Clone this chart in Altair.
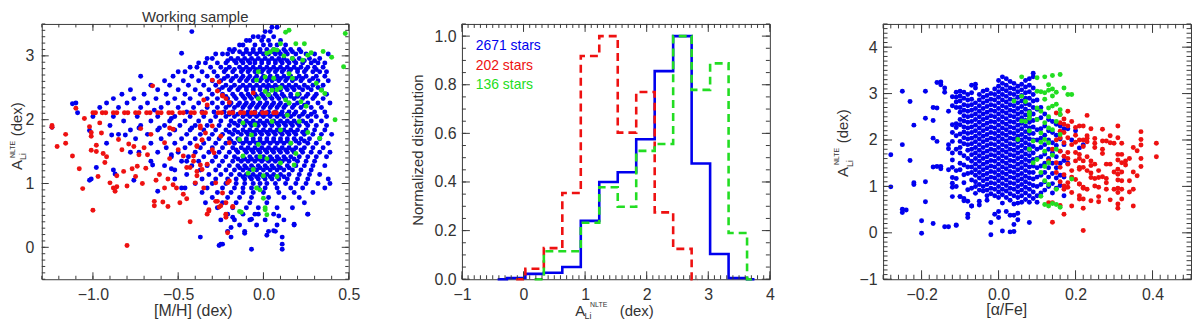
import altair as alt
import pandas as pd

FONT = "Liberation Sans"
FRAME = "#3a3a3a"
TXT = "#333333"
BLUE = "#0000ee"
RED = "#ee1111"
GREEN = "#22dd22"
DOT = 25

# ---------------- left panel : [M/H] vs A(Li) ----------------
blue_mh_rows = [
    (3.45, [0.05, 0.08]),
    (3.38, [0.01, 0.04]),
    (3.30, [-0.06, -0.03, 0.0, 0.06]),
    (3.24, [-0.10, -0.08, -0.01, 0.03, 0.10]),
    (3.17, [-0.14, -0.12, -0.05, 0.0, 0.04, 0.08, 0.13]),
    (3.10, [-0.20, -0.17, -0.10, -0.06, -0.02, 0.02, 0.06, 0.12, 0.16, 0.21]),
    (3.03, [-0.28, -0.24, -0.21, -0.12, -0.08, -0.04, 0.0, 0.03, 0.07, 0.10, 0.14, 0.19, 0.25, 0.30, 0.38]),
    (2.96, [-0.33, -0.30, -0.19, -0.15, -0.11, -0.07, -0.03, 0.01, 0.05, 0.09, 0.12, 0.17, 0.21, 0.27, 0.33]),
    (2.89, [-0.38, -0.34, -0.27, -0.22, -0.16, -0.12, -0.08, -0.05, -0.01, 0.03, 0.07, 0.11, 0.15, 0.19, 0.23, 0.28, 0.32, 0.36]),
    (2.82, [-0.43, -0.39, -0.31, -0.25, -0.20, -0.14, -0.10, -0.06, -0.02, 0.02, 0.06, 0.10, 0.14, 0.18, 0.22, 0.26, 0.30, 0.35]),
    (2.75, [-0.50, -0.46, -0.36, -0.29, -0.23, -0.18, -0.13, -0.09, -0.05, -0.01, 0.03, 0.07, 0.11, 0.15, 0.20, 0.24, 0.29, 0.33, 0.37]),
    (2.68, [-0.72, -0.53, -0.42, -0.33, -0.27, -0.21, -0.16, -0.12, -0.08, -0.04, 0.0, 0.04, 0.08, 0.12, 0.16, 0.21, 0.25, 0.31, 0.36]),
    (2.61, [-0.58, -0.47, -0.38, -0.30, -0.25, -0.19, -0.14, -0.10, -0.06, -0.02, 0.02, 0.05, 0.09, 0.13, 0.17, 0.22, 0.27, 0.32, 0.38]),
    (2.54, [-0.66, -0.55, -0.44, -0.35, -0.28, -0.22, -0.17, -0.12, -0.08, -0.04, 0.0, 0.03, 0.07, 0.11, 0.15, 0.19, 0.24, 0.29, 0.35]),
    (2.47, [-0.78, -0.62, -0.50, -0.40, -0.32, -0.26, -0.20, -0.15, -0.10, -0.06, -0.02, 0.02, 0.06, 0.10, 0.14, 0.18, 0.23, 0.28, 0.34]),
    (2.40, [-0.83, -0.70, -0.57, -0.46, -0.37, -0.30, -0.24, -0.18, -0.13, -0.09, -0.05, -0.01, 0.03, 0.07, 0.11, 0.16, 0.21, 0.26, 0.31, 0.37]),
    (2.33, [-0.88, -0.76, -0.63, -0.52, -0.43, -0.33, -0.27, -0.21, -0.16, -0.11, -0.07, -0.03, 0.01, 0.05, 0.09, 0.13, 0.18, 0.23, 0.29, 0.35]),
    (2.26, [-1.10, -0.92, -0.80, -0.68, -0.56, -0.47, -0.38, -0.30, -0.24, -0.19, -0.14, -0.10, -0.06, -0.02, 0.02, 0.06, 0.10, 0.15, 0.20, 0.26, 0.32, 0.39]),
    (2.19, [-0.96, -0.85, -0.72, -0.60, -0.50, -0.41, -0.33, -0.27, -0.22, -0.17, -0.12, -0.08, -0.04, 0.0, 0.04, 0.08, 0.12, 0.17, 0.22, 0.28, 0.34]),
    (2.12, [-0.45, -0.36, -0.29, -0.23, -0.18, -0.13, -0.09, -0.05, -0.01, 0.03, 0.07, 0.11, 0.15, 0.19, 0.24, 0.30, 0.36]),
    (2.05, [-1.00, -0.88, -0.74, -0.62, -0.52, -0.43, -0.35, -0.28, -0.22, -0.17, -0.12, -0.08, -0.04, 0.0, 0.04, 0.08, 0.12, 0.16, 0.21, 0.26, 0.31, 0.37]),
    (1.98, [-0.82, -0.66, -0.55, -0.46, -0.38, -0.31, -0.25, -0.19, -0.14, -0.10, -0.06, -0.02, 0.02, 0.06, 0.10, 0.14, 0.18, 0.23, 0.28, 0.34]),
    (1.91, [-0.90, -0.72, -0.58, -0.49, -0.40, -0.33, -0.26, -0.20, -0.15, -0.11, -0.07, -0.03, 0.01, 0.05, 0.09, 0.13, 0.17, 0.21, 0.26, 0.31, 0.37]),
    (1.84, [-0.78, -0.62, -0.52, -0.43, -0.35, -0.28, -0.22, -0.17, -0.12, -0.08, -0.04, 0.0, 0.04, 0.08, 0.12, 0.16, 0.20, 0.25, 0.30, 0.36]),
    (1.77, [-0.85, -0.68, -0.55, -0.45, -0.37, -0.30, -0.24, -0.18, -0.13, -0.09, -0.05, -0.01, 0.03, 0.07, 0.11, 0.15, 0.19, 0.24, 0.29, 0.34, 0.40]),
    (1.70, [-0.75, -0.60, -0.48, -0.40, -0.32, -0.26, -0.20, -0.15, -0.10, -0.06, -0.02, 0.02, 0.06, 0.10, 0.14, 0.18, 0.22, 0.27, 0.33]),
    (1.63, [-0.92, -0.66, -0.52, -0.43, -0.35, -0.28, -0.22, -0.17, -0.12, -0.08, -0.04, 0.0, 0.04, 0.08, 0.12, 0.16, 0.21, 0.26, 0.31, 0.38]),
    (1.56, [-0.57, -0.46, -0.37, -0.30, -0.24, -0.18, -0.13, -0.09, -0.05, -0.01, 0.03, 0.07, 0.11, 0.15, 0.19, 0.24, 0.29, 0.35]),
    (1.49, [-0.78, -0.62, -0.50, -0.40, -0.32, -0.26, -0.20, -0.15, -0.10, -0.06, -0.02, 0.02, 0.06, 0.10, 0.14, 0.18, 0.23, 0.28, 0.33, 0.39]),
    (1.42, [-0.54, -0.44, -0.35, -0.28, -0.22, -0.17, -0.12, -0.08, -0.04, 0.0, 0.04, 0.08, 0.12, 0.16, 0.21, 0.26, 0.31, 0.37]),
    (1.35, [-0.66, -0.48, -0.38, -0.30, -0.24, -0.18, -0.13, -0.09, -0.05, -0.01, 0.03, 0.07, 0.11, 0.15, 0.20, 0.25, 0.30]),
    (1.28, [-0.58, -0.42, -0.33, -0.26, -0.20, -0.15, -0.11, -0.07, -0.03, 0.01, 0.05, 0.09, 0.14, 0.19, 0.24, 0.29, 0.36]),
    (1.21, [-0.88, -0.52, -0.37, -0.28, -0.22, -0.17, -0.12, -0.08, -0.04, 0.0, 0.04, 0.08, 0.12, 0.17, 0.22, 0.28]),
    (1.14, [-0.45, -0.32, -0.25, -0.19, -0.14, -0.10, -0.06, -0.02, 0.02, 0.06, 0.10, 0.15, 0.21, 0.27, 0.33]),
    (1.07, [-1.01, -0.52, -0.36, -0.28, -0.21, -0.16, -0.11, -0.07, -0.03, 0.01, 0.05, 0.09, 0.14, 0.20, 0.26, 0.38]),
    (1.00, [-0.40, -0.30, -0.22, -0.16, -0.11, -0.06, -0.02, 0.02, 0.07, 0.13, 0.19, 0.25, 0.32, 0.39]),
    (0.93, [-0.46, -0.33, -0.24, -0.17, -0.12, -0.07, -0.03, 0.01, 0.08, 0.16, 0.23, 0.36]),
    (0.86, [-0.36, -0.27, -0.19, -0.12, -0.06, 0.0, 0.09, 0.18, 0.29]),
    (0.78, [-0.30, -0.21, -0.14, -0.07, 0.03, 0.12, 0.21]),
    (0.70, [-0.34, -0.24, -0.16, -0.08, 0.02, 0.24]),
    (0.62, [-0.27, -0.18, -0.10, -0.03, 0.08, 0.17]),
    (0.52, [-0.21, -0.12, -0.05, 0.06, 0.26]),
    (0.43, [-0.25, -0.17, -0.08, 0.01, 0.12]),
    (0.35, [-0.14, -0.04, 0.08, 0.18]),
    (0.25, [-0.21, -0.11, 0.03, 0.07]),
    (0.16, [-0.37, -0.19, 0.11]),
    (0.05, [-0.25, -0.24, 0.11]),
    (-0.03, [-0.07, 0.11]),
]
blue_mh_core_rows = [
    (3.065, [-0.18, -0.14, -0.10, -0.06, -0.02, 0.02, 0.05, 0.09, 0.13, 0.17, 0.22]),
    (2.925, [-0.21, -0.17, -0.13, -0.09, -0.05, -0.01, 0.03, 0.07, 0.10, 0.14, 0.18, 0.24, 0.30]),
    (2.785, [-0.22, -0.17, -0.12, -0.08, -0.04, 0.0, 0.04, 0.08, 0.12, 0.16, 0.20, 0.25, 0.31]),
    (2.645, [-0.23, -0.18, -0.13, -0.09, -0.05, -0.01, 0.03, 0.07, 0.10, 0.14, 0.19, 0.23, 0.29]),
    (2.505, [-0.24, -0.19, -0.14, -0.10, -0.06, -0.02, 0.02, 0.05, 0.09, 0.13, 0.17, 0.21, 0.26, 0.32]),
    (2.365, [-0.22, -0.17, -0.12, -0.08, -0.04, 0.0, 0.04, 0.08, 0.12, 0.16, 0.20, 0.25, 0.30]),
    (2.225, [-0.20, -0.15, -0.11, -0.07, -0.03, 0.01, 0.05, 0.09, 0.13, 0.18, 0.24]),
    (2.085, [-0.20, -0.15, -0.10, -0.06, -0.02, 0.02, 0.06, 0.10, 0.14, 0.18, 0.23, 0.28]),
    (1.945, [-0.17, -0.12, -0.08, -0.04, 0.0, 0.04, 0.08, 0.12, 0.16, 0.20, 0.25]),
    (1.805, [-0.20, -0.15, -0.10, -0.06, -0.02, 0.02, 0.06, 0.10, 0.14, 0.18, 0.23]),
    (1.665, [-0.19, -0.14, -0.10, -0.06, -0.02, 0.02, 0.06, 0.10, 0.14, 0.19, 0.24]),
    (1.525, [-0.16, -0.11, -0.07, -0.03, 0.01, 0.05, 0.09, 0.13, 0.17, 0.22]),
    (1.385, [-0.15, -0.11, -0.07, -0.03, 0.01, 0.05, 0.09, 0.13, 0.18]),
    (1.245, [-0.14, -0.10, -0.06, -0.02, 0.02, 0.06, 0.10, 0.15]),
    (1.105, [-0.12, -0.08, -0.04, 0.0, 0.04, 0.08, 0.12]),
]
blue_mh_extra = [
    (-0.42, 3.38), (-0.48, 3.04), (-1.24, 1.88), (-1.12, 2.25), (-1.09, 2.11), (-1.02, 1.83),
    (-0.89, 1.76), (-0.81, 1.76), (-0.73, 1.87), (-0.64, 2.15), (-0.61, 1.87), (-0.54, 2.02),
    (-0.42, 1.87), (-1.02, 1.05), (-0.98, 1.25), (-0.87, 1.15), (-0.76, 1.05), (-0.73, 1.49),
    (-0.65, 1.29), (-0.62, 0.88), (-0.54, 1.45), (-0.54, 1.23), (-0.48, 0.93), (-0.45, 1.35),
    (0.06, 0.26), (0.18, 0.36), (0.26, 0.52), (0.02, 0.19), (-0.07, 0.44), (-0.11, 0.22),
    (-0.19, 0.31), (0.09, 0.49), (-0.18, 0.47), (-0.03, 0.52), (-0.26, 0.03),
]
red_mh = [
    (-1.24, 1.91), (-1.24, 1.88), (-1.21, 1.58), (-1.16, 1.77), (-1.16, 1.63), (-1.12, 1.43),
    (-1.10, 2.18), (-1.08, 1.23), (-1.06, 0.92), (-1.05, 2.02), (-1.02, 1.89), (-1.01, 1.80),
    (-1.01, 1.74), (-1.01, 1.52), (-1.00, 0.58), (-0.98, 1.60), (-0.98, 1.50), (-0.97, 1.11),
    (-0.96, 1.95), (-0.95, 1.79), (-0.94, 1.47), (-0.93, 1.33), (-0.92, 1.42), (-0.90, 1.01),
    (-0.88, 0.93), (-0.87, 0.88), (-0.86, 1.12), (-0.86, 0.95), (-0.85, 1.69), (-0.83, 1.53),
    (-0.82, 1.19), (-0.80, 0.03), (-0.80, 0.96), (-0.79, 1.62), (-0.77, 1.23), (-0.76, 1.58),
    (-0.75, 1.11), (-0.73, 1.45), (-0.74, 1.27), (-0.72, 1.86), (-0.71, 1.00), (-0.70, 1.56),
    (-0.68, 1.45), (-0.69, 1.24), (-0.66, 1.77), (-0.65, 2.53), (-0.64, 0.65), (-0.64, 0.72),
    (-0.63, 1.05), (-0.61, 1.14), (-0.59, 0.71), (-0.58, 1.64), (-0.58, 0.93), (-0.56, 1.07),
    (-0.56, 0.64), (-0.55, 1.39), (-0.55, 1.87), (-0.53, 1.85), (-0.53, 0.98), (-0.51, 0.93),
    (-0.50, 1.53), (-0.49, 0.70), (-0.47, 0.83), (-0.47, 1.43), (-0.45, 1.25), (-0.45, 0.76),
    (-0.43, 0.40), (-0.43, 1.25), (-0.41, 1.35), (-0.40, 1.01), (-0.39, 1.59), (-0.39, 1.12),
    (-0.37, 1.90), (-0.36, 1.22), (-0.36, 1.68), (-0.35, 0.93), (-0.33, 1.30), (-0.32, 0.57),
    (-0.30, 1.53), (-0.30, 1.90), (-0.28, 0.72), (-0.27, 2.45), (-0.26, 0.63), (-0.25, 1.74),
    (-0.24, 2.37), (-0.22, 0.51), (-0.21, 0.23), (-0.21, 1.01), (-0.20, 1.64), (-0.18, 0.64),
    (-0.20, 2.27), (-0.06, 2.42), (-0.30, 2.62), (-0.26, 2.59), (-0.24, 2.38), (-0.22, 2.33),
    (-0.35, 2.31), (-0.33, 2.23), (-0.37, 1.87), (-0.34, 1.79), (-0.36, 1.68), (-0.39, 1.58),
    (-0.41, 1.43), (-0.37, 1.29), (-0.39, 1.19), (-0.28, 1.01), (-0.24, 0.85), (-0.27, 0.72),
    (-0.22, 0.70), (-0.25, 0.65), (-0.32, 0.59), (-0.33, 0.52), (-0.22, 0.52), (-0.22, 0.47),
    (-0.18, 0.63), (-0.20, 1.04), (-0.29, 1.48),
]
red_mh_band_y = 2.11
red_mh_band_x = [
    -1.00, -0.985, -0.945, -0.925, -0.88, -0.86, -0.815, -0.795, -0.75, -0.73, -0.685, -0.665,
    -0.62, -0.60, -0.555, -0.535, -0.49, -0.47, -0.425, -0.405, -0.36, -0.34, -0.265, -0.245,
    -0.20, -0.18, -0.135, -0.115, -0.07, -0.05, -0.005, 0.015, 0.06, 0.075,
]
green_mh = [
    (0.13, 3.37), (0.15, 3.40), (0.10, 3.19), (0.08, 3.09), (0.04, 3.06), (0.02, 3.04),
    (0.06, 3.10), (0.19, 3.19), (0.24, 3.19), (0.26, 3.01), (0.23, 2.93), (0.17, 2.96),
    (0.35, 3.07), (0.40, 2.98), (0.47, 2.83), (0.48, 3.35), (0.28, 3.05), (0.12, 3.00),
    (-0.03, 2.75), (-0.04, 2.62), (0.01, 2.67), (0.06, 2.65), (0.15, 2.72), (0.17, 2.65),
    (0.01, 2.44), (0.05, 2.46), (0.08, 2.47), (0.03, 2.39), (-0.03, 2.33), (0.13, 2.31),
    (0.15, 2.26), (0.22, 2.28), (0.25, 2.21), (0.34, 2.46), (0.36, 2.41), (0.31, 2.57),
    (0.10, 2.50), (0.20, 2.40), (-0.12, 1.95), (-0.05, 1.92), (0.05, 1.97), (0.10, 1.84),
    (0.21, 1.97), (0.14, 2.07), (0.42, 2.00), (-0.14, 1.69), (-0.07, 1.76), (-0.03, 1.61),
    (0.16, 1.63), (0.33, 1.71), (0.26, 1.80), (-0.02, 1.42), (0.02, 1.39), (-0.09, 1.16),
    (-0.04, 0.93), (-0.02, 0.90), (0.0, 0.77), (0.01, 0.59), (0.02, 0.51), (-0.14, 0.56),
    (0.08, 1.11), (0.18, 1.29), (0.19, 1.47), (0.10, 1.32), (-0.12, 1.43), (-0.06, 1.22),
    (0.0, 1.12), (-0.13, 0.55), (0.01, 0.62),
]

# ---------------- middle panel : normalized histograms ----------------
hist_blue_edges = [-0.42, -0.27, 0.03, 0.33, 0.63, 0.93, 1.23, 1.53, 1.83, 2.13, 2.43, 2.73, 3.03, 3.33, 3.63, 3.75]
hist_blue_vals = [0.0, 0.005, 0.022, 0.027, 0.05, 0.24, 0.40, 0.44, 0.576, 0.856, 1.0, 0.476, 0.104, 0.005, 0.0]
hist_red_edges = [-0.12, 0.03, 0.33, 0.63, 0.93, 1.23, 1.53, 1.83, 2.13, 2.43, 2.73, 2.83]
hist_red_vals = [0.0, 0.043, 0.128, 0.355, 0.918, 1.0, 0.603, 0.77, 0.275, 0.125, 0.0]
hist_green_edges = [0.18, 0.33, 0.63, 0.93, 1.23, 1.53, 1.83, 2.13, 2.43, 2.73, 3.03, 3.33, 3.63, 3.76]
hist_green_vals = [0.0, 0.115, 0.115, 0.232, 0.378, 0.298, 0.528, 0.556, 1.0, 0.779, 0.888, 0.19, 0.0]
legend_texts = ["2671 stars", "202 stars", "136 stars"]

# ---------------- right panel : [alpha/Fe] vs A(Li) ----------------
blue_af_col_x = [-0.12, -0.11, -0.10, -0.09, -0.08, -0.07, -0.06, -0.05, -0.04, -0.03, -0.02, -0.01,
                 0.00, 0.01, 0.02, 0.03, 0.04, 0.05, 0.06, 0.07, 0.08, 0.09, 0.10, 0.11, 0.12, 0.13,
                 0.14, 0.15, 0.16, 0.17]
blue_af_col_y = [
    [2.93, 2.74, 2.33, 2.16, 1.97, 1.72, 1.57, 1.41, 1.19, 0.78],
    [3.03, 2.92, 2.82, 2.70, 2.35, 2.27, 2.09, 1.80, 1.34, 1.17, 1.00, 0.16],
    [3.05, 2.95, 2.84, 2.70, 2.60, 2.44, 2.33, 2.13, 1.97, 1.84, 1.72, 1.50, 1.36, 0.78],
    [3.03, 2.90, 2.76, 2.64, 2.52, 2.41, 2.28, 2.17, 2.05, 1.92, 1.66, 1.46, 1.25, 1.08, 0.74],
    [2.98, 2.86, 2.74, 2.62, 2.50, 2.38, 2.26, 2.14, 2.02, 1.90, 1.78, 1.60, 1.42, 1.28, 0.93, 0.68],
    [3.18, 3.02, 2.88, 2.76, 2.64, 2.52, 2.40, 2.28, 2.16, 2.04, 1.92, 1.80, 1.68, 1.54, 1.42, 1.30, 1.14, 0.96, 0.58],
    [3.20, 3.12, 2.80, 2.68, 2.56, 2.44, 2.32, 2.20, 2.08, 1.96, 1.84, 1.72, 1.60, 1.48, 1.36, 1.24, 1.10, 1.00, 0.85],
    [2.98, 2.86, 2.74, 2.62, 2.50, 2.38, 2.26, 2.14, 2.02, 1.90, 1.78, 1.66, 1.54, 1.42, 1.30, 1.18, 1.04, 0.92, 0.68, 0.60],
    [3.05, 2.92, 2.80, 2.68, 2.56, 2.44, 2.32, 2.20, 2.08, 1.96, 1.84, 1.72, 1.60, 1.48, 1.36, 1.24, 1.12, 1.00, 0.90],
    [3.08, 2.96, 2.84, 2.72, 2.60, 2.48, 2.36, 2.24, 2.12, 2.00, 1.88, 1.76, 1.64, 1.52, 1.40, 1.28, 1.16, 1.04, 0.92, 0.80, 0.70],
    [3.00, 2.88, 2.76, 2.64, 2.52, 2.40, 2.28, 2.16, 2.04, 1.92, 1.80, 1.68, 1.56, 1.44, 1.32, 1.20, 1.08, 0.96, 0.84, 0.22, -0.04],
    [3.10, 2.98, 2.86, 2.74, 2.62, 2.50, 2.38, 2.26, 2.14, 2.02, 1.90, 1.78, 1.66, 1.54, 1.42, 1.30, 1.18, 1.06, 0.94, 0.80, 0.40],
    [3.28, 3.16, 3.04, 2.92, 2.80, 2.68, 2.56, 2.44, 2.32, 2.20, 2.08, 1.96, 1.84, 1.72, 1.60, 1.48, 1.36, 1.24, 1.12, 1.00, 0.88, 0.76, 0.46, 0.33],
    [3.36, 3.22, 3.10, 2.98, 2.86, 2.74, 2.62, 2.50, 2.38, 2.26, 2.14, 2.02, 1.90, 1.78, 1.66, 1.54, 1.42, 1.30, 1.18, 1.06, 0.94, 0.82, 0.64, 0.04],
    [3.32, 3.18, 3.06, 2.94, 2.82, 2.70, 2.58, 2.46, 2.34, 2.22, 2.10, 1.98, 1.86, 1.74, 1.62, 1.50, 1.38, 1.26, 1.14, 1.02, 0.90, 0.76, 0.46],
    [3.26, 3.12, 3.00, 2.88, 2.76, 2.64, 2.52, 2.40, 2.28, 2.16, 2.04, 1.92, 1.80, 1.68, 1.56, 1.44, 1.32, 1.20, 1.08, 0.96, 0.84, 0.70, 0.38, 0.02],
    [3.22, 3.10, 2.98, 2.86, 2.74, 2.62, 2.50, 2.38, 2.26, 2.14, 2.02, 1.90, 1.78, 1.66, 1.54, 1.42, 1.30, 1.18, 1.06, 0.94, 0.80, 0.62, 0.38, 0.18, 0.03],
    [3.16, 3.04, 2.92, 2.80, 2.68, 2.56, 2.44, 2.32, 2.20, 2.08, 1.96, 1.84, 1.72, 1.60, 1.48, 1.36, 1.24, 1.12, 1.00, 0.88, 0.76, 0.64, 0.42, 0.28],
    [3.20, 3.08, 2.96, 2.84, 2.72, 2.60, 2.48, 2.36, 2.24, 2.12, 2.00, 1.88, 1.76, 1.64, 1.52, 1.40, 1.28, 1.16, 1.04, 0.92, 0.80, 0.66],
    [3.28, 3.14, 3.02, 2.90, 2.78, 2.66, 2.54, 2.42, 2.30, 2.18, 2.06, 1.94, 1.82, 1.70, 1.58, 1.46, 1.34, 1.22, 1.10, 0.98, 0.86, 0.72],
    [3.32, 3.18, 3.04, 2.90, 2.76, 2.62, 2.50, 2.38, 2.26, 2.14, 2.02, 1.90, 1.78, 1.66, 1.54, 1.42, 1.30, 1.18, 1.06, 0.94, 0.80, 0.66, 0.22],
    [3.44, 3.36, 3.12, 2.98, 2.84, 2.70, 2.56, 2.42, 2.28, 2.14, 2.00, 1.86, 1.72, 1.58, 1.44, 1.30, 1.16, 1.02, 0.88, 0.74],
    [2.86, 2.66, 2.44, 2.22, 2.00, 1.80, 1.60, 1.40, 1.20, 1.00, 0.80, 0.66],
    [2.70, 2.48, 2.24, 2.04, 1.84, 1.64, 1.44, 1.24, 1.04, 0.86],
    [2.56, 2.30, 2.10, 1.90, 1.70, 1.50, 1.30, 1.10, 0.92],
    [2.44, 2.20, 2.00, 1.80, 1.60, 1.40, 1.20, 1.00],
    [2.40, 2.16, 1.94, 1.72, 1.50, 1.28, 1.06, 0.86],
    [2.34, 2.10, 1.88, 1.64, 1.40, 1.18, 0.96],
    [2.30, 2.02, 1.76, 1.50, 1.24, 1.02],
    [2.24, 1.90, 1.56, 1.20],
]
blue_af_extra = [
    (-0.28, 1.68), (-0.28, 0.99), (-0.25, 3.05), (-0.25, 1.90), (-0.25, 0.44), (-0.24, 0.49),
    (-0.23, 2.83), (-0.23, 1.56), (-0.22, 2.32), (-0.22, 1.08), (-0.22, 1.04), (-0.20, 0.26),
    (-0.20, -0.01), (-0.19, 3.05), (-0.19, 2.47), (-0.19, 1.10), (-0.19, 0.67), (-0.17, 2.70),
    (-0.17, 2.42), (-0.17, 2.04), (-0.17, 1.42), (-0.17, 0.20), (-0.16, 3.24), (-0.16, 2.69),
    (-0.16, 1.97), (-0.16, 1.43), (-0.15, 3.19), (-0.15, 1.43), (-0.15, 1.38), (-0.14, 3.03),
    (-0.14, 3.12), (-0.14, 0.13), (-0.13, 2.62), (-0.13, 1.90), (-0.13, 1.81), (-0.13, 1.36),
    (-0.13, 0.13), (-0.11, 0.17), (-0.12, 1.07), (-0.12, 0.98), (-0.10, 0.78), (-0.09, 0.69),
    (-0.08, 0.40), (-0.08, 0.33), (-0.07, 0.58), (-0.25, 0.51), (-0.15, 3.25),
    (0.18, 2.24), (0.19, 2.00), (0.20, 2.20), (0.21, 1.83), (0.22, 1.90), (0.18, 1.50), (0.17, 0.80),
]
green_af = [
    (0.06, 3.36), (0.10, 3.34), (0.12, 3.36), (0.14, 3.39), (0.16, 3.41), (0.13, 3.19), (0.10, 3.05),
    (0.11, 3.04), (0.12, 3.02), (0.13, 3.07), (0.14, 3.10), (0.15, 3.03), (0.17, 3.12), (0.18, 2.98),
    (0.19, 2.98), (0.04, 2.84), (0.06, 2.94), (0.06, 2.41), (0.08, 2.55), (0.10, 2.69), (0.11, 2.62),
    (0.13, 2.69), (0.14, 2.73), (0.16, 2.55), (0.15, 2.77), (0.16, 2.65), (0.10, 2.44), (0.12, 2.37),
    (0.13, 2.26), (0.14, 2.22), (0.16, 2.12), (0.11, 2.15), (0.12, 2.01), (0.13, 1.94), (0.15, 1.80),
    (0.12, 1.76), (0.10, 1.58), (0.13, 1.51), (0.11, 1.30), (0.12, 1.12), (0.13, 1.04), (0.15, 0.94),
    (0.12, 0.61), (0.13, 0.58), (0.15, 0.61), (0.11, 0.79), (0.09, 1.51), (0.08, 1.80), (0.09, 1.98),
    (0.05, 2.01), (0.08, 2.59), (0.07, 2.83), (0.08, 2.47), (0.19, 1.16), (0.16, 0.55), (0.14, 0.63),
    (0.07, 2.40), (0.12, 2.88), (0.14, 2.95), (0.13, 2.50), (0.15, 2.40), (0.11, 1.95), (0.14, 1.67),
    (0.12, 1.43), (0.08, 2.20),
]
red_af = [
    (0.23, 2.53), (0.21, 2.30), (0.22, 2.30), (0.24, 2.24), (0.23, 2.09), (0.23, 2.04), (0.21, 2.00),
    (0.23, 1.96), (0.22, 1.86), (0.25, 2.03), (0.25, 1.93), (0.25, 1.84), (0.27, 2.23), (0.27, 1.98),
    (0.28, 1.98), (0.29, 2.09), (0.29, 1.94), (0.30, 1.93), (0.31, 2.30), (0.31, 2.05), (0.32, 1.93),
    (0.27, 1.80), (0.27, 1.71), (0.23, 1.64), (0.21, 1.60), (0.22, 1.55), (0.24, 1.55), (0.25, 1.48),
    (0.24, 1.45), (0.28, 1.48), (0.29, 1.48), (0.31, 1.69), (0.32, 1.69), (0.31, 1.57), (0.32, 1.51),
    (0.33, 1.55), (0.33, 1.46), (0.34, 1.60), (0.35, 1.84), (0.36, 1.77), (0.37, 2.18), (0.37, 2.01),
    (0.37, 1.89), (0.37, 1.60), (0.37, 1.43), (0.41, 1.93), (0.41, 1.64), (0.21, 1.41), (0.23, 1.34),
    (0.24, 1.29), (0.26, 1.34), (0.25, 1.17), (0.24, 1.19), (0.26, 1.19), (0.27, 1.21), (0.28, 1.17),
    (0.28, 1.08), (0.30, 1.31), (0.31, 1.37), (0.31, 1.26), (0.32, 1.31), (0.31, 1.14), (0.32, 1.12),
    (0.35, 1.31), (0.36, 1.23), (0.34, 1.12), (0.21, 1.05), (0.22, 0.98), (0.23, 0.94), (0.25, 1.01),
    (0.26, 0.98), (0.28, 0.94), (0.30, 0.94), (0.31, 0.96), (0.31, 0.87), (0.32, 0.94), (0.34, 0.88),
    (0.35, 0.94), (0.21, 0.73), (0.24, 0.69), (0.26, 0.78), (0.26, 0.67), (0.29, 0.71), (0.31, 0.62),
    (0.31, 0.53), (0.32, 0.73), (0.35, 0.58), (0.22, 0.53), (0.22, 0.05),
    (0.16, 2.55), (0.18, 2.62), (0.16, 2.37), (0.17, 2.34), (0.18, 2.30), (0.20, 2.27), (0.16, 2.19),
    (0.17, 2.16), (0.16, 2.05), (0.17, 1.94), (0.18, 2.05), (0.22, 2.00), (0.16, 1.76), (0.17, 1.65),
    (0.18, 1.73), (0.20, 1.73), (0.21, 1.69), (0.13, 1.55), (0.15, 1.51), (0.16, 1.41), (0.18, 1.48),
    (0.19, 1.34), (0.21, 1.37), (0.22, 1.41), (0.17, 1.01), (0.18, 0.98), (0.18, 1.08), (0.20, 1.15),
    (0.21, 1.05), (0.17, 0.94), (0.19, 0.87), (0.13, 0.65), (0.14, 0.65), (0.16, 0.59), (0.19, 0.58),
    (0.17, 0.40), (0.14, 0.23), (0.21, 0.80), (0.22, 0.73), (0.22, 0.96), (0.15, 2.58), (0.19, 1.90),
    (0.20, 1.55), (0.17, 1.25), (0.19, 1.20), (0.20, 2.10), (0.18, 1.60), (0.16, 1.10), (0.15, 1.30),
    (0.14, 1.80), (0.15, 2.00), (0.17, 2.45), (0.19, 2.40), (0.20, 1.95),
]

# ---------------- build tables ----------------
rows = []
for yv, xs in blue_mh_rows + blue_mh_core_rows:
    for xv in xs:
        rows.append((xv, yv, BLUE))
rows += [(a, b, BLUE) for a, b in blue_mh_extra]
rows += [(a, b, RED) for a, b in red_mh]
rows += [(a, red_mh_band_y, RED) for a in red_mh_band_x]
rows += [(a, b, GREEN) for a, b in green_mh]
df_left = pd.DataFrame(rows, columns=["x", "y", "c"])

rows = []
for xv, ys in zip(blue_af_col_x, blue_af_col_y):
    for yv in ys:
        rows.append((xv, yv, BLUE))
rows += [(a, b, BLUE) for a, b in blue_af_extra]
rows += [(a, b, RED) for a, b in red_af]
rows += [(a, b, GREEN) for a, b in green_af]
df_right = pd.DataFrame(rows, columns=["x", "y", "c"])


def step_df(edges, vals):
    return pd.DataFrame({"x": edges, "y": list(vals) + [vals[-1]]})


W1, W2, W3, H = 309, 310, 310, 257


def ax(values, fmt, pad):
    return alt.Axis(values=values, format=fmt, title=None, labelPadding=pad, ticks=False,
                    tickSize=0, domain=False, grid=False, labelFlush=False, labelOverlap=False,
                    labelFont=FONT, labelFontSize=16, labelColor=TXT)


def frange(a, b, s):
    n = int(round((b - a) / s))
    return [round(a + i * s, 4) for i in range(n + 1)]


def tick_layers(xmaj, xmin, ymaj, ymin, xsc, ysc, xax, yax, w, h, lmaj, lmin):
    out = []
    for vals, L in ((xmaj, lmaj), (xmin, lmin)):
        d = pd.DataFrame({"x": vals})
        ex = alt.X("x:Q", scale=xsc, axis=xax)
        out.append(alt.Chart(d).mark_rule(color=FRAME, strokeWidth=1).encode(
            x=ex, y=alt.value(h), y2=alt.value(h - L)))
        out.append(alt.Chart(d).mark_rule(color=FRAME, strokeWidth=1).encode(
            x=ex, y=alt.value(0), y2=alt.value(L)))
    for vals, L in ((ymaj, lmaj), (ymin, lmin)):
        d = pd.DataFrame({"y": vals})
        ey = alt.Y("y:Q", scale=ysc, axis=yax)
        out.append(alt.Chart(d).mark_rule(color=FRAME, strokeWidth=1).encode(
            y=ey, x=alt.value(0), x2=alt.value(L)))
        out.append(alt.Chart(d).mark_rule(color=FRAME, strokeWidth=1).encode(
            y=ey, x=alt.value(w), x2=alt.value(w - L)))
    return out


def txt(s, x, y, size, color=TXT, angle=0, align="left"):
    kw = dict(font=FONT, fontSize=size, color=color, align=align, baseline="alphabetic")
    if angle:
        kw["angle"] = angle
    return alt.Chart(pd.DataFrame({"t": [s]})).mark_text(**kw).encode(
        text="t:N", x=alt.value(x), y=alt.value(y))


def anchor(x, y):
    return alt.Chart(pd.DataFrame({"a": [0]})).mark_circle(size=1, color="white", opacity=0).encode(
        x=alt.value(x), y=alt.value(y))


def scatter(df, xsc, ysc, xax, yax):
    return alt.Chart(df).mark_circle(size=DOT, opacity=1, clip=True).encode(
        x=alt.X("x:Q", scale=xsc, axis=xax),
        y=alt.Y("y:Q", scale=ysc, axis=yax),
        color=alt.Color("c:N", scale=None),
    )


# ---- left ----
xs1 = alt.Scale(domain=[-1.3, 0.5], nice=False, zero=False)
ys1 = alt.Scale(domain=[-0.5, 3.5], nice=False, zero=False)
xa1 = ax([-1.0, -0.5, 0.0, 0.5], ".1f", 7)
ya1 = ax([0, 1, 2, 3], "d", 8)
left = alt.layer(
    scatter(df_left, xs1, ys1, xa1, ya1),
    *tick_layers([-1.0, -0.5, 0.0, 0.5], frange(-1.3, 0.5, 0.1), [0, 1, 2, 3], frange(-0.5, 3.5, 0.1),
                 xs1, ys1, xa1, ya1, W1, H, 7, 3.5),
    txt("Working sample", W1 / 2, -2, 15, align="center"),
    txt("A", -20, 147, 15, angle=270),
    txt("Li", -16, 137, 9, angle=270),
    txt("NLTE", -27, 135, 7, angle=270),
    txt("(dex)", -20, 113, 15, angle=270),
    txt("[M/H] (dex)", 152.5, 294, 16, align="center"),
    anchor(-32.5, -11.5),
).properties(width=W1, height=H)

# ---- middle ----
xs2 = alt.Scale(domain=[-1, 4], nice=False, zero=False)
ys2 = alt.Scale(domain=[0, 1.05], nice=False, zero=False)
xa2 = ax([-1, 0, 1, 2, 3, 4], "d", 7)
ya2 = ax([0.0, 0.2, 0.4, 0.6, 0.8, 1.0], ".1f", 6)


def hist_line(df, color, dash=None):
    kw = dict(interpolate="step-after", color=color, strokeWidth=2.6)
    if dash:
        kw["strokeDash"] = dash
    return alt.Chart(df).mark_line(**kw).encode(
        x=alt.X("x:Q", scale=xs2, axis=xa2), y=alt.Y("y:Q", scale=ys2, axis=ya2))


mid = alt.layer(
    hist_line(step_df(hist_blue_edges, hist_blue_vals), BLUE),
    hist_line(step_df(hist_red_edges, hist_red_vals), RED, [8, 5]),
    hist_line(step_df(hist_green_edges, hist_green_vals), GREEN, [8, 5]),
    *tick_layers([-1, 0, 1, 2, 3, 4], frange(-1, 4, 0.1), [0.0, 0.2, 0.4, 0.6, 0.8, 1.0],
                 frange(0, 1.05, 0.05), xs2, ys2, xa2, ya2, W2, H, 8, 4),
    txt(legend_texts[0], 14, 26.5, 14, BLUE),
    txt(legend_texts[1], 14, 46, 14, RED),
    txt(legend_texts[2], 14, 65.5, 14, GREEN),
    txt("Normalized distribution", -39, 127, 15, angle=270, align="center"),
    txt("A", 114, 294.5, 15),
    txt("Li", 123.5, 297.5, 9),
    txt("NLTE", 129, 284.5, 7),
    txt("(dex)", 159, 294.5, 15),
).properties(width=W2, height=H)

# ---- right ----
xs3 = alt.Scale(domain=[-0.3, 0.5], nice=False, zero=False)
ys3 = alt.Scale(domain=[-1, 4.5], nice=False, zero=False)
xa3 = ax([-0.2, 0.0, 0.2, 0.4], ".1f", 7)
ya3 = ax([-1, 0, 1, 2, 3, 4], "d", 6)
right = alt.layer(
    scatter(df_right, xs3, ys3, xa3, ya3),
    *tick_layers([-0.2, 0.0, 0.2, 0.4], frange(-0.3, 0.5, 0.02), [-1, 0, 1, 2, 3, 4],
                 frange(-1, 4.5, 0.1), xs3, ys3, xa3, ya3, W3, H, 9, 4.5),
    txt("A", -35, 154, 15, angle=270),
    txt("Li", -30, 144, 9, angle=270),
    txt("NLTE", -44, 142, 7, angle=270),
    txt("(dex)", -35, 120, 15, angle=270),
    txt("[α/Fe]", 124.5, 293, 16, align="center"),
).properties(width=W3, height=H)

chart = alt.hconcat(left, mid, right, spacing=114, bounds="flush").properties(
    padding=0
).configure_view(stroke=FRAME, strokeWidth=1).configure_concat(spacing=114)

chart.save("out.html", embed_options={"renderer": "svg", "actions": False})
